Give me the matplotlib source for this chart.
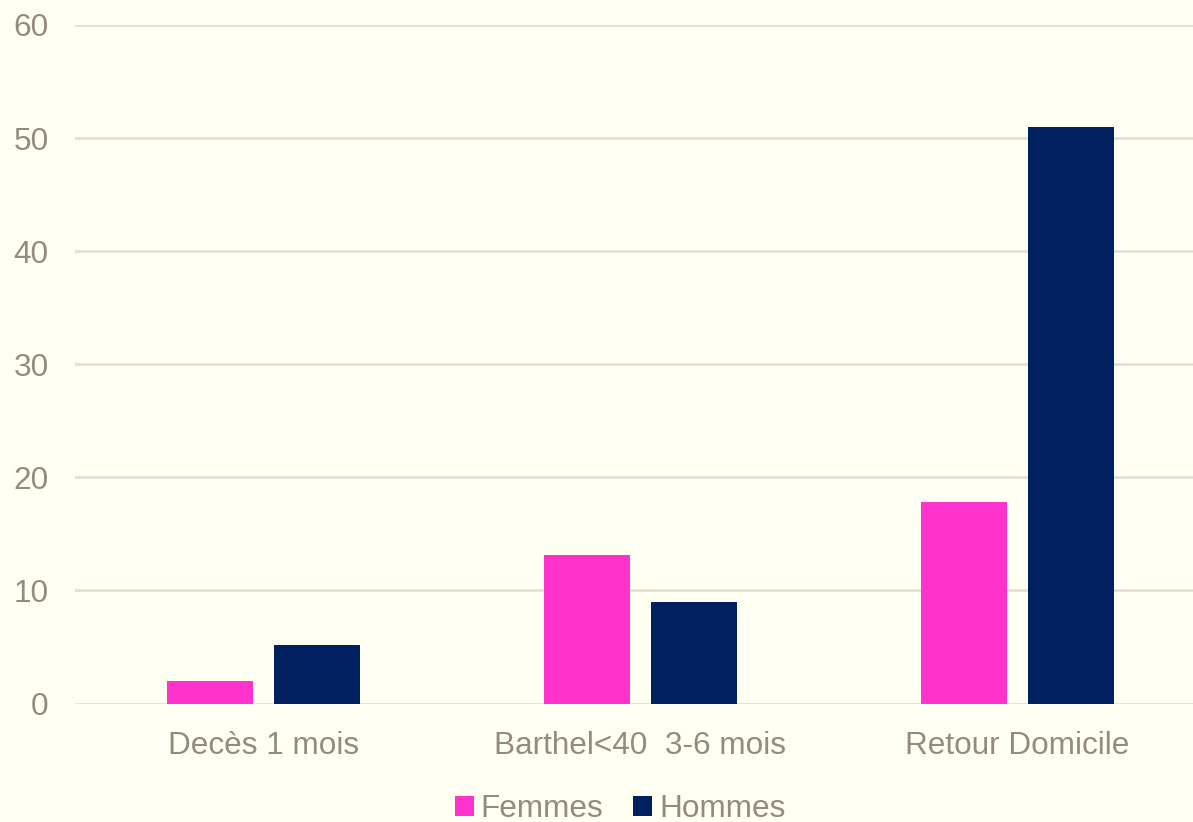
import matplotlib
matplotlib.use("Agg")
import matplotlib.pyplot as plt
import numpy as np

# Data
categories = ["Decès 1 mois", "Barthel<40  3-6 mois", "Retour Domicile"]
femmes = [2.0, 13.1, 17.8]
hommes = [5.2, 9.0, 51.0]

bg = "#FFFFF2"
txt = "#948A83"
c_f = "#FF33CC"
c_h = "#002060"

plt.rcParams["font.family"] = ["Liberation Sans", "DejaVu Sans"]

fig = plt.figure(figsize=(11.93, 8.22), dpi=100, facecolor=bg)
ax = fig.add_axes([75 / 1193, 118.5 / 822, 1131 / 1193, 678.5 / 822])
ax.set_facecolor(bg)

x = np.arange(len(categories))
w = 0.228
off = 0.142
ax.bar(x - off, femmes, w, color=c_f, label="Femmes", zorder=3)
ax.bar(x + off, hommes, w, color=c_h, label="Hommes", zorder=3)

ax.set_xlim(-0.5, len(categories) - 0.5)
ax.set_ylim(0, 60)
ax.set_yticks(range(0, 61, 10))
ax.yaxis.grid(True, color="#E2E0DA", linewidth=2, zorder=0)
ax.set_axisbelow(True)

for s in ax.spines.values():
    s.set_visible(False)

ax.set_xticks(x)
ax.set_xticklabels(categories)
ax.tick_params(axis="both", length=0, labelsize=22.7, colors=txt)
ax.tick_params(axis="y", pad=19)
ax.tick_params(axis="x", pad=19.5)

fig.legend(loc="center", bbox_to_anchor=(620 / 1193, 1 - 809 / 822),
           ncol=2, frameon=False, fontsize=22.7, labelcolor=txt,
           handlelength=0.6, handleheight=0.6, handletextpad=0.22,
           columnspacing=0.95, borderpad=0)

fig.savefig("out.png", dpi=100, facecolor=bg)
